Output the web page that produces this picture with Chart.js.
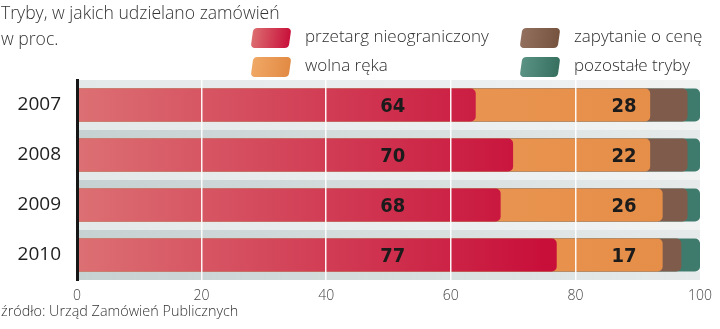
<!DOCTYPE html>
<html>
<head>
<meta charset="utf-8">
<script src="https://cdn.jsdelivr.net/npm/chart.js@4.4.1/dist/chart.umd.min.js"></script>
<style>
  html, body { margin: 0; padding: 0; background: #fff; }
  #wrap { position: relative; width: 720px; height: 329px; overflow: hidden; font-family: 'Open Sans', sans-serif; color: #333; }
  #chart { position: absolute; left: 0; top: 0; }
  .txt { position: absolute; white-space: nowrap; font-weight: 300; }
  .title { left: 1px; font-size: 17.6px; line-height: 20px; }
  .src { left: 1px; top: 302px; font-size: 14.4px; line-height: 18px; }
  .lg { position: absolute; font-size: 17px; line-height: 20px; font-weight: 300; white-space: nowrap; color: #2e2e2e; }
  .sw { position: absolute; width: 38px; height: 20px; border-radius: 4px; transform: skewX(-8deg); }
</style>
</head>
<body>
<div id="wrap">
  <canvas id="chart" width="720" height="329"></canvas>
  <div class="txt title" style="top:2px">Tryby, w jakich udzielano zamówień</div>
  <div class="txt title" style="top:28px">w proc.</div>
  <div id="legend"></div>
  <div class="txt src">źródło: Urząd Zamówień Publicznych</div>
</div>
<script>
// data
const years = ['2007', '2008', '2009', '2010'];
const przetarg = [64, 70, 68, 77];
const wolnaReka = [28, 22, 26, 17];
const zapytanie = [6, 6, 4, 3];
const pozostale = [2, 2, 2, 3];
const xTicks = [0, 20, 40, 60, 80, 100];

const seriesNames = ['przetarg nieograniczony', 'wolna ręka', 'zapytanie o cenę', 'pozostałe tryby'];
const seriesColors = ['#cf2a48', '#e8914b', '#7f5b4c', '#3f7b6c'];
const swatchGrads = [
  'linear-gradient(90deg,#dc6d70,#c8103a)',
  'linear-gradient(90deg,#f0a865,#e28a44)',
  'linear-gradient(90deg,#93705e,#76533f)',
  'linear-gradient(90deg,#5a9284,#37705f)'
];

// legend (2 columns)
const legendPos = [[252, 28], [252, 57], [521, 28], [521, 57]];
const legendEl = document.getElementById('legend');
seriesNames.forEach((name, i) => {
  const [lx, ly] = legendPos[i];
  legendEl.innerHTML += `<div class="sw" style="left:${lx}px;top:${ly}px;background:${swatchGrads[i]}"></div>
    <div class="lg" style="left:${lx + 53}px;top:${ly - 2}px">${name}</div>`;
});

// floating ranges, drawn one over the other
const allSeries = [przetarg, wolnaReka, zapytanie, pozostale];
const ends = allSeries.map((s, k) =>
  years.map((y, i) => allSeries.slice(0, k + 1).reduce((a, arr) => a + arr[i], 0))
);

const redFill = (ctx) => {
  const a = ctx.chart.chartArea;
  if (!a) return seriesColors[0];
  const g = ctx.chart.ctx.createLinearGradient(a.left, 0, a.left + (a.right - a.left) * 0.75, 0);
  g.addColorStop(0, '#dc7073');
  g.addColorStop(1, '#c80f3a');
  return g;
};
const orangeFill = (ctx) => {
  const a = ctx.chart.chartArea;
  if (!a) return seriesColors[1];
  const g = ctx.chart.ctx.createLinearGradient(a.left, 0, a.right, 0);
  g.addColorStop(0, '#eea060');
  g.addColorStop(1, '#e58d47');
  return g;
};

const fills = [redFill, orangeFill, '#7f5b4c', '#3f7b6c'];

const datasets = seriesNames.map((name, k) => ({
  label: name,
  data: ends[k].map((e) => [0, e]),
  backgroundColor: fills[k],
  borderRadius: { topRight: 5, bottomRight: 5 },
  borderSkipped: 'start',
  grouped: false,
  barPercentage: 0.66,
  categoryPercentage: 1
}));

// grey striped background behind bars
const bandsPlugin = {
  id: 'bands',
  beforeDatasetsDraw(chart) {
    const { ctx, chartArea: a } = chart;
    const meta = chart.getDatasetMeta(0);
    ctx.save();
    const g = ctx.createLinearGradient(a.left, 0, a.right, 0);
    g.addColorStop(0, '#e3e8e8');
    g.addColorStop(1, '#f1f3f3');
    ctx.fillStyle = g;
    ctx.fillRect(a.left, a.top, a.right - a.left, a.bottom - a.top);
    const d = ctx.createLinearGradient(a.left, 0, a.right, 0);
    d.addColorStop(0, '#c6d1d1');
    d.addColorStop(1, '#e6eaea');
    ctx.fillStyle = d;
    meta.data.forEach((el, i) => {
      const bottom = el.y + el.height / 2;
      const next = meta.data[i + 1];
      const nextTop = next ? next.y - next.height / 2 : a.bottom;
      const mid = next ? (bottom + nextTop) / 2 : bottom;
      ctx.fillRect(a.left, mid, a.right - a.left, nextTop - mid);
    });
    ctx.restore();
  }
};

// value labels for the two largest series
const labelAt = [50.7, 87.8];
const valuesPlugin = {
  id: 'values',
  afterDraw(chart) {
    const { ctx } = chart;
    const xs = chart.scales.x;
    const meta = chart.getDatasetMeta(0);
    ctx.save();
    ctx.font = 'bold 20px "Liberation Sans Narrow", "DejaVu Sans Condensed", sans-serif';
    ctx.fillStyle = '#1b1b1b';
    ctx.textAlign = 'center';
    ctx.textBaseline = 'middle';
    meta.data.forEach((el, i) => {
      ctx.fillText(przetarg[i], xs.getPixelForValue(labelAt[0]), el.y + 2);
      ctx.fillText(wolnaReka[i], xs.getPixelForValue(labelAt[1]), el.y + 2);
    });
    ctx.restore();
  }
};

const config = {
  type: 'bar',
  data: { labels: years, datasets: datasets },
  options: {
    indexAxis: 'y',
    responsive: false,
    animation: false,
    layout: { padding: { top: 80, right: 18, left: 0, bottom: 0 } },
    plugins: {
      legend: { display: false },
      tooltip: { enabled: false }
    },
    scales: {
      x: {
        min: 0,
        max: 100,
        afterFit: (s) => { s.height = 49; },
        afterBuildTicks: (s) => { s.ticks = xTicks.map((v) => ({ value: v })); },
        grid: {
          z: 1,
          color: (c) => (c.tick && c.tick.value > 0 && c.tick.value < 100 ? 'rgba(255,255,255,0.95)' : 'rgba(0,0,0,0)'),
          lineWidth: 1.5,
          drawTicks: false
        },
        border: { display: false },
        ticks: {
          padding: 8,
          color: '#444',
          font: { family: 'Open Sans', size: 14, weight: '300' }
        }
      },
      y: {
        afterFit: (s) => { s.width = 77; },
        grid: { display: false, drawTicks: false },
        border: { display: true, color: '#161616', width: 3, z: 2 },
        ticks: {
          padding: 16,
          color: '#1e1e1e',
          font: { family: 'Open Sans', size: 19, weight: '500' }
        }
      }
    }
  },
  plugins: [bandsPlugin, valuesPlugin]
};

try {
  const chart = new Chart(document.getElementById('chart'), config);
} catch (e) {
  console.log(e);
}
</script>
</body>
</html>
